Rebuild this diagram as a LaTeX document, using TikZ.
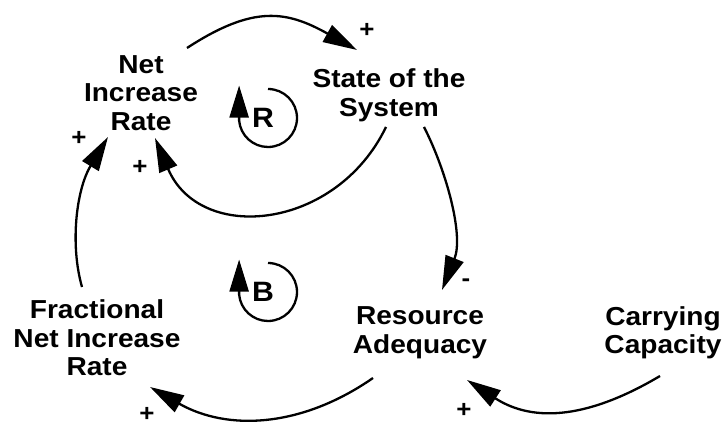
\documentclass[tikz,border=0pt]{standalone}
\usepackage{fontspec}
\setmainfont[FakeStretch=1.08]{Liberation Sans}
\usetikzlibrary{arrows.meta,calc}
\begin{document}
\begin{tikzpicture}[x=1pt,y=-1pt,
  var/.style={font=\fontsize{26}{28.5}\selectfont\bfseries,align=center,inner sep=0pt},
  sgn/.style={font=\fontsize{24}{24}\selectfont\bfseries,inner sep=0pt},
  loopletter/.style={font=\fontsize{28}{28}\selectfont\bfseries,inner sep=0pt},
  link/.style={line width=2.3pt,-{Triangle[length=34pt,width=19pt]}},
  looparc/.style={line width=2.3pt,-{Triangle[length=32pt,width=19pt]}}]
\useasboundingbox (0,0) rectangle (724,427);
\fill[white] (0,0) rectangle (724,427);

% variables
\node[var] (nir)  at (141,92.7)  {Net\\Increase\\Rate};
\node[var] (sos)  at (389,95.2)  {State of the\\System};
\node[var] (fnir) at (97,338.2)  {Fractional\\Net Increase\\Rate};
\node[var] (ra)   at (420,333)   {Resource\\Adequacy};
\node[var] (cc)   at (663,332.8) {Carrying\\Capacity};

% loop letters
\node[loopletter] (R) at (263,118) {R};
\node[loopletter] (B) at (263,292) {B};

% polarity signs
\node[sgn] (s1) at (367,30)  {+};
\node[sgn] (s2) at (140,167) {+};
\node[sgn] (s3) at (79,138)  {+};
\node[sgn] (s4) at (466,283) {-};
\node[sgn] (s5) at (147,414) {+};
\node[sgn] (s6) at (464,410) {+};

% links
\draw[link] ($(nir)+(46,-44.7)$) .. controls +(67,-43.7) and +(-70,-39) .. ($(sos)+(-32,-45.2)$);
\draw[link] ($(sos)+(-3,31.8)$) .. controls +(-50,103.5) and +(45,106) .. ($(nir)+(14,45.3)$);
\draw[link] ($(fnir)+(-15,-51.2)$) .. controls +(-12,-42) and +(-32,53) .. ($(nir)+(-33,44.3)$);
\draw[link] ($(sos)+(35,31.8)$) .. controls +(22,43) and +(22,-55) .. ($(ra)+(22,-43)$);
\draw[link] ($(ra)+(-47,45)$) .. controls +(-72,50) and +(77,44) .. ($(fnir)+(53,48.8)$);
\draw[link] ($(cc)+(-3,43.2)$) .. controls +(-69,41) and +(68,44) .. ($(ra)+(47,47)$);

% loop markers
\draw[looparc] ($(R)+(5,-29)$) arc[start angle=-90,end angle=175,radius=29] -- ++(0,-35);
\draw[looparc] ($(B)+(5,-29)$) arc[start angle=-90,end angle=175,radius=29] -- ++(0,-35);
\end{tikzpicture}
\end{document}
